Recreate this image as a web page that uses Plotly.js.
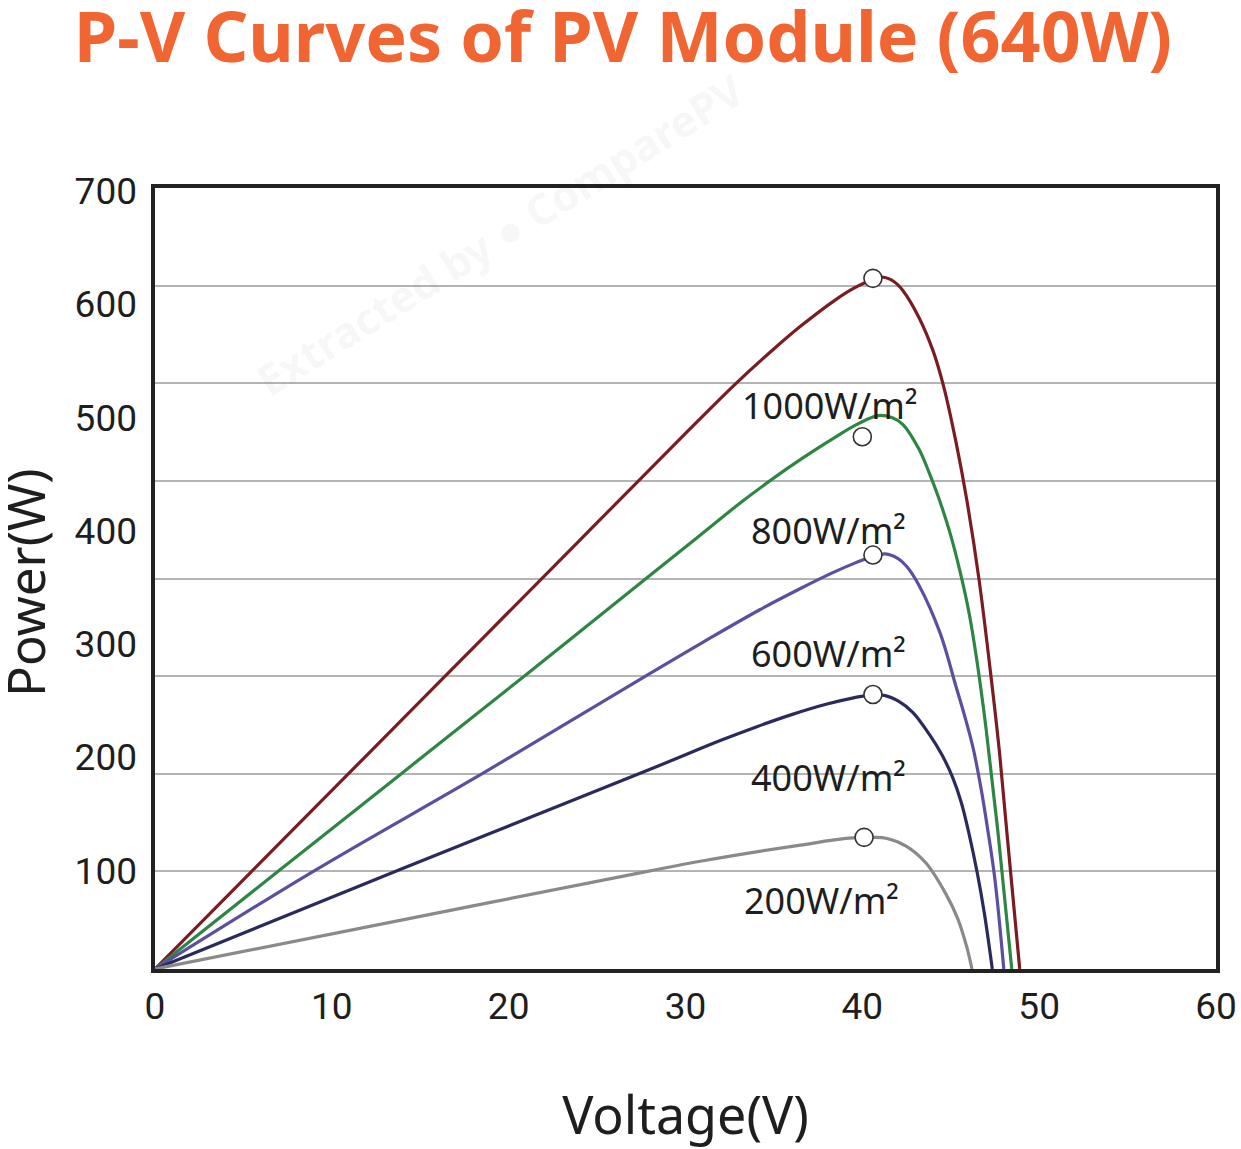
<!DOCTYPE html>
<html>
<head>
<meta charset="utf-8">
<title>P-V Curves of PV Module (640W)</title>
<script src="https://cdn.plot.ly/plotly-3.0.1.min.js"></script>
<style>
  html, body { margin: 0; padding: 0; background: #ffffff; }
  #chart { width: 1241px; height: 1149px; }
</style>
</head>
<body>
<div id="chart"></div>
<script>
// Values (voltage in V, power in W)
const irradianceLabels = ['1000W/m²', '800W/m²', '600W/m²', '400W/m²', '200W/m²'];
const curveColors = ['#7a1d22', '#2f8543', '#5b4f9f', '#2a2b5c', '#8a8a8a'];

const voltage1000 = [0, 8, 16, 24, 30, 32.8, 34.8, 36.5, 38.5, 39.5, 40.6, 41.2, 41.8, 42.3, 43.2, 44.0, 44.6, 45.3, 45.9, 46.6, 47.3, 47.75, 48.2, 48.9];
const power1000   = [0, 128, 256, 384, 480, 524, 553, 576, 600, 610, 618, 620, 616, 608, 584, 554, 522, 472, 421, 349, 259, 195, 118, 0];

const voltage800 = [0, 7, 14, 21, 28, 31, 33.2, 35.7, 37.2, 38.5, 39.8, 40.9, 41.7, 42.3, 43.2, 43.8, 44.3, 44.9, 45.5, 46.05, 46.5, 47.0, 47.7, 48.45];
const power800   = [0, 88, 176, 264, 353, 391, 419, 448, 464, 477, 489, 496, 494, 488, 466, 444, 423, 394, 358, 318, 274, 215, 118, 0];

const voltage600 = [0, 9, 18.6, 28, 31, 34.2, 36.5, 38.3, 39.6, 40.6, 41.3, 42.0, 42.5, 43.2, 44.4, 45.3, 45.8, 46.25, 46.7, 47.1, 47.5, 48.0];
const power600   = [0, 88, 176, 265, 293, 322, 341, 355, 364, 370, 372, 368, 361, 344, 301, 253, 226, 199, 163, 124, 80, 0];

const voltage400 = [0, 14, 28, 32, 34, 36, 38, 39.5, 40.6, 41.3, 42.0, 42.85, 43.8, 44.5, 45.1, 45.6, 46.05, 46.5, 46.9, 47.35];
const power400   = [0, 90, 179, 205, 217, 228, 237.5, 243, 246, 245, 240.5, 230, 210, 192, 172, 149, 120, 86, 50, 0];

const voltage200 = [0, 14, 28, 31, 34, 36.5, 38.3, 39.5, 40.6, 41.4, 42.5, 43.6, 44.7, 45.4, 45.9, 46.2];
const power200   = [0, 44, 88, 97, 105, 111, 115.5, 117.5, 118, 117, 110, 95, 68, 45, 20, 0];

// Maximum power points (open circles)
const mppVoltage = [40.6, 40.0, 40.6, 40.6, 40.1];
const mppPower   = [619, 477, 371, 246, 118];

// Where each irradiance label sits
const labelVoltage = [38.15, 38.1, 38.1, 38.1, 37.7];
const labelPower   = [505, 393, 283, 172, 61];

const voltages = [voltage1000, voltage800, voltage600, voltage400, voltage200];
const powers = [power1000, power800, power600, power400, power200];

const traces = voltages.map(function(v, i) {
    return {
        type: 'scatter',
        mode: 'lines',
        name: irradianceLabels[i],
        x: v,
        y: powers[i],
        line: { color: curveColors[i], width: 3.2, shape: 'spline', smoothing: 1 },
        hoverinfo: 'x+y+name'
    };
});

traces.push({
    type: 'scatter',
    mode: 'markers',
    name: 'MPP',
    x: mppVoltage,
    y: mppPower,
    marker: { symbol: 'circle', size: 18, color: '#ffffff', line: { color: '#333333', width: 1.6 } },
    hoverinfo: 'x+y'
});

// invisible copy so the tick-label axis gets drawn
traces.push({
    type: 'scatter',
    mode: 'markers',
    x: mppVoltage,
    y: mppPower,
    yaxis: 'y2',
    marker: { opacity: 0 },
    hoverinfo: 'skip',
    showlegend: false
});

const annotations = irradianceLabels.map(function(label, i) {
    return {
        text: label,
        x: labelVoltage[i],
        y: labelPower[i],
        xref: 'x',
        yref: 'y',
        showarrow: false,
        font: { family: 'Noto Sans, sans-serif', size: 36, color: '#1e1e1e' }
    };
});

// y axis title, placed by hand (standoff is clamped by the margin)
annotations.push({
    text: 'Power(W)',
    xref: 'paper',
    yref: 'paper',
    x: -0.122,
    y: 0.495,
    xanchor: 'center',
    yanchor: 'middle',
    showarrow: false,
    textangle: -90,
    font: { family: 'Noto Sans, sans-serif', size: 51, color: '#1e1e1e' }
});

// faint watermark
annotations.push({
    text: 'Extracted by ● ComparePV',
    xref: 'paper',
    yref: 'paper',
    x: 0.325,
    y: 0.94,
    xanchor: 'center',
    yanchor: 'middle',
    showarrow: false,
    textangle: -32,
    font: { family: 'Noto Sans, sans-serif', size: 43, weight: 'bold', color: 'rgba(0,0,0,0.05)' }
});

const layout = {
    width: 1241,
    height: 1149,
    margin: { t: 188, r: 25, b: 180, l: 155 },
    paper_bgcolor: '#ffffff',
    plot_bgcolor: 'rgba(0,0,0,0)',
    showlegend: false,
    title: {
        text: 'P-V Curves of PV Module (640W)',
        x: 0.502,
        xref: 'container',
        xanchor: 'center',
        y: 0.967,
        yref: 'container',
        yanchor: 'middle',
        font: { family: 'Noto Sans, sans-serif', size: 70, weight: 'bold', color: '#f06532' }
    },
    xaxis: {
        range: [0, 60],
        dtick: 10,
        tick0: 0,
        showgrid: false,
        zeroline: false,
        showline: true,
        mirror: true,
        linecolor: '#222222',
        linewidth: 4,
        ticks: '',
        ticklabelstandoff: 2,
        tickfont: { family: 'Roboto, sans-serif', size: 37, color: '#1e1e1e' },
        title: {
            text: 'Voltage(V)',
            standoff: 74,
            font: { family: 'Noto Sans, sans-serif', size: 52, color: '#1e1e1e' }
        }
    },
    // data axis: frame and eight equal grid bands, no labels
    yaxis: {
        range: [0, 700],
        dtick: 87.5,
        tick0: 0,
        showgrid: true,
        gridcolor: '#b4b4b4',
        gridwidth: 1.5,
        zeroline: false,
        showline: true,
        mirror: true,
        linecolor: '#222222',
        linewidth: 4,
        ticks: '',
        showticklabels: false
    },
    // tick labels, spaced as in the reference
    yaxis2: {
        overlaying: 'y',
        side: 'left',
        range: [13.1, 702.8],
        dtick: 100,
        tick0: 0,
        showgrid: false,
        zeroline: false,
        showline: false,
        ticks: '',
        ticklabelstandoff: 17,
        tickfont: { family: 'Roboto, sans-serif', size: 37, color: '#1e1e1e' }
    },
    annotations: annotations
};

const config = {
    responsive: false,
    displayModeBar: false
};

Plotly.newPlot('chart', traces, layout, config);
</script>
</body>
</html>
